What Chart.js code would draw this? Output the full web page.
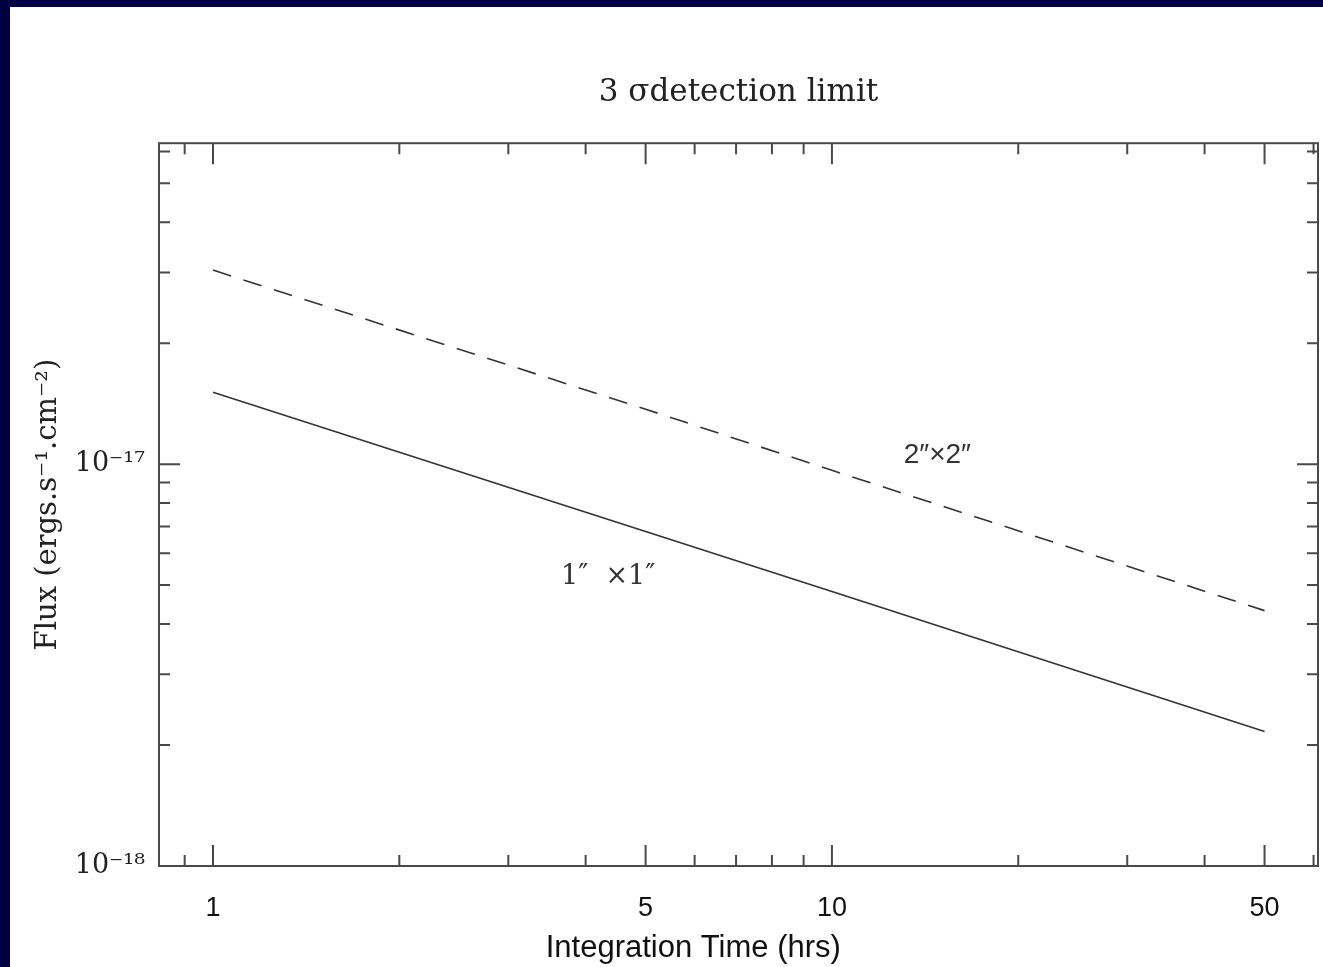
<!DOCTYPE html>
<html>
<head>
<meta charset="utf-8">
<script src="https://cdn.jsdelivr.net/npm/chart.js@4.4.1/dist/chart.umd.min.js"></script>
<style>
  html, body { margin: 0; padding: 0; background: #000040; overflow: hidden; }
  #sheet { position: absolute; left: 10px; top: 7px; width: 1313px; height: 960px; background: #fff; }
</style>
</head>
<body>
<div id="sheet"><canvas id="limitChart" width="1313" height="960"></canvas></div>
<script>
// Integration times (hrs) and 3 sigma flux limits
const hours = [1, 5, 10, 50];
const flux1x1 = [1.51e-17, 6.8e-18, 4.82e-18, 2.16e-18];   // solid, 1" x 1"
const flux2x2 = [3.04e-17, 1.37e-17, 9.65e-18, 4.32e-18];  // dashed, 2" x 2"

// Axis ticks
const xTickLabels = [1, 5, 10, 50];
const xMinorTicks = [0.9, 2, 3, 4, 6, 7, 8, 9, 20, 30, 40, 60];
const yTickValues = [1e-18, 1e-17];
const yTickLabels = ['10\u207B\u00B9\u2078', '10\u207B\u00B9\u2077'];
const yMinorTicks = [2e-18, 3e-18, 4e-18, 5e-18, 6e-18, 7e-18, 8e-18, 9e-18,
                     2e-17, 3e-17, 4e-17, 5e-17, 6e-17];

const ink = '#333';
const frameColor = '#4a4a4a';
const serif = '"DejaVu Serif", serif';
const sans = '"Liberation Sans", sans-serif';

// Frame with inward ticks on all four sides, x axis title and the two curve labels
const framePlugin = {
    id: 'frame',
    afterDraw(chart) {
        const { ctx, chartArea: a, scales: { x, y } } = chart;
        ctx.save();
        ctx.strokeStyle = frameColor;
        ctx.lineWidth = 2;
        ctx.strokeRect(a.left, a.top, a.right - a.left, a.bottom - a.top);

        const xTick = (v, len) => {
            const px = x.getPixelForValue(v);
            ctx.beginPath();
            ctx.moveTo(px, a.bottom); ctx.lineTo(px, a.bottom - len);
            ctx.moveTo(px, a.top); ctx.lineTo(px, a.top + len);
            ctx.stroke();
        };
        const yTick = (v, len) => {
            const py = y.getPixelForValue(v);
            ctx.beginPath();
            ctx.moveTo(a.left, py); ctx.lineTo(a.left + len, py);
            ctx.moveTo(a.right, py); ctx.lineTo(a.right - len, py);
            ctx.stroke();
        };
        xTickLabels.forEach(v => xTick(v, 21));
        xMinorTicks.forEach(v => xTick(v, 11));
        yTickValues.forEach(v => yTick(v, 21));
        yMinorTicks.forEach(v => yTick(v, 11));

        ctx.textAlign = 'center';
        ctx.textBaseline = 'middle';

        // x axis title sits a little left of the plot centre in the original
        ctx.fillStyle = '#111';
        ctx.font = '31px ' + sans;
        ctx.fillText('Integration Time (hrs)', a.left + (a.right - a.left) * 0.461, a.bottom + 82);

        // curve labels
        ctx.fillStyle = ink;
        ctx.font = '28px ' + sans;
        ctx.fillText('2\u2033\u00D72\u2033', x.getPixelForValue(14.8), y.getPixelForValue(1.05e-17));
        ctx.font = '27px ' + serif;
        ctx.fillText('1\u2033  \u00D71\u2033', x.getPixelForValue(4.35), y.getPixelForValue(5.24e-18));
        ctx.restore();
    }
};

const config = {
    type: 'line',
    data: {
        labels: hours,
        datasets: [
            {
                label: '1" x 1"',
                data: hours.map((h, i) => ({ x: h, y: flux1x1[i] })),
                borderColor: ink,
                borderWidth: 1.6,
                pointRadius: 0,
                tension: 0
            },
            {
                label: '2" x 2"',
                data: hours.map((h, i) => ({ x: h, y: flux2x2[i] })),
                borderColor: ink,
                borderWidth: 1.6,
                borderDash: [19, 13],
                pointRadius: 0,
                tension: 0
            }
        ]
    },
    options: {
        responsive: false,
        animation: false,
        layout: { padding: { left: 0, right: 5, top: 0, bottom: 0 } },
        plugins: {
            legend: { display: false },
            tooltip: { enabled: false },
            title: {
                display: true,
                fullSize: false,
                text: '3 \u03C3detection limit',
                color: '#222',
                font: { family: serif, size: 31, weight: 'normal' },
                padding: { top: 67, bottom: 32 }
            }
        },
        scales: {
            x: {
                type: 'logarithmic',
                min: 0.818,
                max: 61,
                afterBuildTicks: s => { s.ticks = xTickLabels.map(v => ({ value: v })); },
                afterFit: s => { s.height = 101; },
                grid: { display: false, drawTicks: false },
                border: { display: false },
                ticks: {
                    color: '#111',
                    padding: 26,
                    maxRotation: 0,
                    autoSkip: false,
                    font: { family: sans, size: 27 },
                    callback: v => String(v)
                }
            },
            y: {
                type: 'logarithmic',
                min: 1e-18,
                max: 6.29e-17,
                afterBuildTicks: s => { s.ticks = yTickValues.map(v => ({ value: v })); },
                afterFit: s => { s.width = 149; },
                grid: { display: false, drawTicks: false },
                border: { display: false },
                ticks: {
                    color: '#222',
                    padding: 14,
                    autoSkip: false,
                    font: { family: serif, size: 27 },
                    callback: v => yTickLabels[yTickValues.findIndex(t => Math.abs(t - v) / t < 1e-6)] ?? ''
                },
                title: {
                    display: true,
                    text: 'Flux (ergs.s\u207B\u00B9.cm\u207B\u00B2)',
                    color: '#222',
                    font: { family: serif, size: 29 },
                    padding: { top: 21, bottom: 0 }
                }
            }
        }
    },
    plugins: [framePlugin]
};

const chartContext = document.getElementById('limitChart').getContext('2d');
const limitChart = new Chart(chartContext, config);
</script>
</body>
</html>
